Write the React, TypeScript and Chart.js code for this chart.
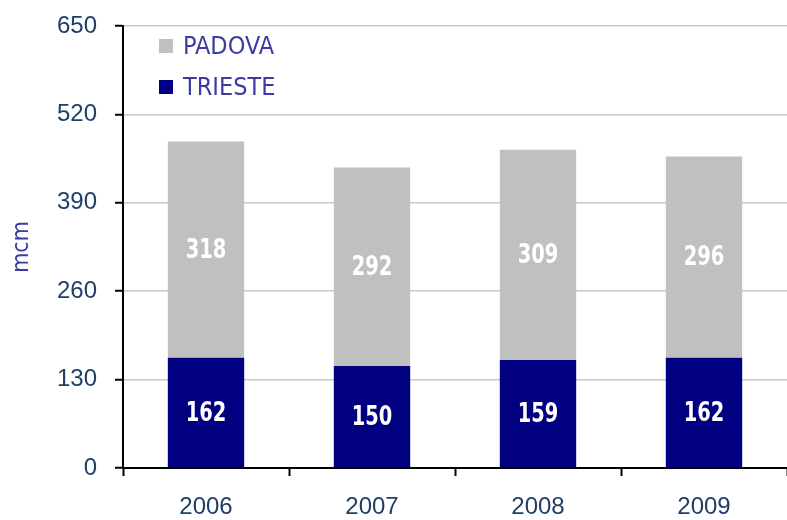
import React, { useEffect, useRef } from "react";
import { Chart, registerables } from "chart.js";

Chart.register(...registerables);

const years = ["2006", "2007", "2008", "2009"];
const trieste = [162, 150, 159, 162];
const padova = [318, 292, 309, 296];
const seriesNames = ["TRIESTE", "PADOVA"];
const yTitle = "mcm";

const COL_TRIESTE = "#000080";
const COL_PADOVA = "#C0C0C0";
const TEXT_AXIS = "#1F3F66";
const TEXT_LEGEND = "#3B3BA0";
const NARROW = "'Liberation Sans Narrow', 'DejaVu Sans Condensed', sans-serif";

const valueLabels = {
  id: "valueLabels",
  afterDatasetsDraw(chart: any) {
    const ctx = chart.ctx;
    ctx.save();
    ctx.fillStyle = "#FFFFFF";
    ctx.font = "bold 27px 'DejaVu Sans Condensed', sans-serif";
    ctx.textAlign = "center";
    ctx.textBaseline = "middle";
    const sx = 0.8;
    chart.data.datasets.forEach((ds: any, i: number) => {
      const meta = chart.getDatasetMeta(i);
      meta.data.forEach((bar: any, j: number) => {
        const v = ds.data[j];
        const yc = (bar.y + bar.base) / 2;
        ctx.save();
        ctx.translate(bar.x, yc + 1);
        ctx.scale(sx, 1);
        ctx.fillText(String(v), 0, 0);
        ctx.restore();
      });
    });
    ctx.restore();
  },
};

const customLegend = {
  id: "customLegend",
  afterDraw(chart: any) {
    const ctx = chart.ctx;
    const area = chart.chartArea;
    const items = [
      { name: seriesNames[1], color: COL_PADOVA },
      { name: seriesNames[0], color: COL_TRIESTE },
    ];
    ctx.save();
    ctx.font = "25px " + NARROW;
    ctx.textBaseline = "middle";
    ctx.textAlign = "left";
    items.forEach((it, k) => {
      const x = area.left + 36;
      const y = area.top + 20 + k * 41;
      ctx.fillStyle = it.color;
      ctx.fillRect(x, y - 7, 14, 14);
      ctx.fillStyle = TEXT_LEGEND;
      ctx.fillText(it.name, x + 24, y + 1);
    });
    ctx.restore();
  },
};

export default function App() {
  const ref = useRef<HTMLCanvasElement | null>(null);
  useEffect(() => {
    if (!ref.current) return;
    const chart = new Chart(ref.current, {
      type: "bar",
      data: {
        labels: years,
        datasets: [
          {
            label: seriesNames[0],
            data: trieste,
            backgroundColor: COL_TRIESTE,
            borderWidth: 0,
          },
          {
            label: seriesNames[1],
            data: padova,
            backgroundColor: COL_PADOVA,
            borderWidth: 0,
          },
        ],
      },
      options: {
        animation: false,
        responsive: false,
        maintainAspectRatio: false,
        layout: { padding: { top: 26, right: 0, left: 0, bottom: 0 } },
        plugins: {
          legend: { display: false },
          tooltip: { enabled: false },
        },
        datasets: {
          bar: { categoryPercentage: 1, barPercentage: 0.46 },
        },
        scales: {
          x: {
            stacked: true,
            offset: true,
            grid: {
              offset: true,
              drawOnChartArea: false,
              drawTicks: true,
              tickLength: 8,
              tickColor: "#000000",
              tickWidth: 2,
            },
            border: { display: true, color: "#000000", width: 2 },
            ticks: {
              color: TEXT_AXIS,
              font: { family: "'Liberation Sans', sans-serif", size: 24 },
              padding: 17,
            },
            afterFit(scale: any) {
              scale.height = 52;
              scale.paddingLeft = 0;
              scale.paddingRight = 0;
            },
          },
          y: {
            stacked: true,
            min: 0,
            max: 650,
            ticks: {
              stepSize: 130,
              color: TEXT_AXIS,
              font: { family: "'Liberation Sans', sans-serif", size: 24 },
              padding: 18,
            },
            grid: {
              color: "#C8C8C8",
              lineWidth: 1.5,
              drawTicks: true,
              tickLength: 8,
              tickColor: "#000000",
              tickWidth: 2,
            },
            border: { display: true, color: "#000000", width: 2 },
            title: {
              display: true,
              text: yTitle,
              color: TEXT_LEGEND,
              font: { family: NARROW, size: 23 },
              padding: { top: 8, bottom: 0 },
            },
            afterFit(scale: any) {
              scale.width = 123;
              scale.paddingTop = 0;
              scale.paddingBottom = 0;
            },
          },
        },
      },
      plugins: [valueLabels, customLegend],
    });
    return () => chart.destroy();
  }, []);
  return (
    <div style={{ position: "absolute", left: 0, top: 0, width: 787, height: 520, background: "#fff" }}>
      <canvas ref={ref} width={787} height={520} style={{ display: "block" }} />
    </div>
  );
}
